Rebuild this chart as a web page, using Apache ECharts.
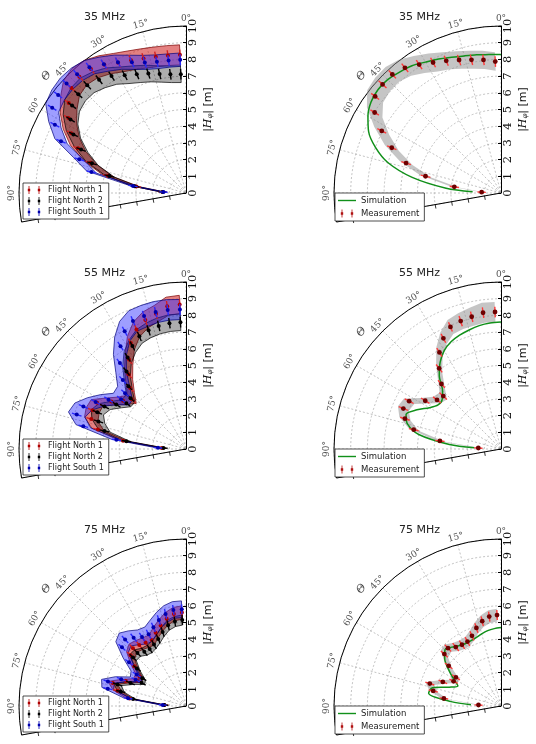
<!DOCTYPE html>
<html>
<head>
<meta charset="utf-8">
<script src="https://cdn.jsdelivr.net/npm/echarts@6/dist/echarts.min.js"></script>
<style>
  html, body { margin: 0; padding: 0; background: #fff; }
  #main { width: 536px; height: 744px; }
</style>
</head>
<body>
<div id="main"></div>
<script>
// zenith angles of the measured points (deg)
const thetas = [2.5, 7.5, 12.5, 17.5, 22.5, 27.5, 32.5, 37.5, 42.5, 47.5, 52.5, 57.5, 62.5, 67.5, 72.5, 77.5, 82.5, 87.5]
// zenith angles of the simulation curve
const simThetas = [0, 5, 10, 15, 20, 25, 30, 35, 40, 45, 50, 55, 60, 65, 70, 75, 80, 85, 87.5]
const angleTicks = [0, 15, 30, 45, 60, 75, 90]
const freqs = ['35 MHz', '55 MHz', '75 MHz']

// 35 MHz - single flights |H_phi| [m]
const north1_35 = [8.28, 8.3, 8.35, 8.45, 8.6, 8.8, 9.1, 9.35, 9.45, 9.3, 8.85, 8.35, 7.75, 7.0, 6.0, 4.8, 3.0, 1.4]
const north2_35 = [7.12, 7.17, 7.3, 7.5, 7.7, 7.95, 8.3, 8.55, 8.75, 8.75, 8.6, 8.2, 7.6, 6.8, 5.9, 4.7, 3.1, 1.4]
const south1_35 = [7.99, 8.0, 8.05, 8.2, 8.47, 8.83, 9.15, 9.5, 9.65, 9.7, 9.65, 9.5, 8.85, 8.1, 6.7, 5.8, 3.2, 1.35]
const bandN1_35 = [0.6, 0.6, 0.6, 0.6, 0.6, 0.62, 0.64, 0.66, 0.66, 0.65, 0.62, 0.58, 0.54, 0.5, 0.42, 0.35, 0.25, 0.12]
const bandN2_35 = [0.5, 0.5, 0.5, 0.52, 0.54, 0.56, 0.58, 0.6, 0.6, 0.58, 0.56, 0.52, 0.48, 0.44, 0.38, 0.3, 0.22, 0.1]
const bandS1_35 = [0.4, 0.4, 0.42, 0.44, 0.46, 0.48, 0.5, 0.5, 0.5, 0.5, 0.48, 0.46, 0.42, 0.4, 0.36, 0.3, 0.2, 0.1]

// 55 MHz
const north1_55 = [8.66, 8.62, 8.3, 8.1, 7.75, 7.15, 6.35, 5.65, 4.95, 4.4, 4.75, 5.3, 6.0, 6.05, 5.95, 5.4, 3.8, 1.45]
const north2_55 = [7.6, 7.6, 7.55, 7.45, 7.3, 6.95, 6.5, 5.85, 5.1, 4.5, 4.5, 4.95, 5.5, 5.75, 5.5, 5.0, 3.6, 1.35]
const south1_55 = [8.36, 8.4, 8.4, 8.35, 8.3, 7.95, 7.3, 6.5, 5.6, 4.95, 4.9, 5.5, 6.1, 6.65, 6.86, 6.3, 4.2, 1.68]
const bandN1_55 = [0.55, 0.55, 0.5, 0.5, 0.48, 0.45, 0.42, 0.4, 0.38, 0.36, 0.36, 0.38, 0.4, 0.42, 0.42, 0.38, 0.28, 0.12]
const bandN2_55 = [0.5, 0.5, 0.48, 0.46, 0.44, 0.42, 0.4, 0.38, 0.36, 0.34, 0.34, 0.36, 0.38, 0.4, 0.4, 0.35, 0.25, 0.1]
const bandS1_55 = [0.6, 0.62, 0.64, 0.66, 0.66, 0.66, 0.65, 0.64, 0.62, 0.6, 0.58, 0.56, 0.55, 0.55, 0.52, 0.45, 0.32, 0.14]

// 75 MHz
const north1_75 = [5.6, 5.55, 5.35, 5.05, 4.75, 4.45, 4.5, 4.6, 4.7, 4.5, 3.9, 3.3, 3.3, 3.9, 4.6, 4.2, 3.4, 1.3]
const north2_75 = [5.15, 5.1, 4.95, 4.65, 4.35, 4.15, 4.05, 4.1, 4.3, 4.3, 3.7, 3.1, 3.0, 3.6, 4.3, 4.0, 3.2, 1.3]
const south1_75 = [5.8, 5.8, 5.65, 5.4, 5.1, 4.85, 4.9, 5.15, 5.4, 5.2, 4.3, 3.5, 3.4, 4.2, 4.9, 4.8, 3.5, 1.4]
const bandN1_75 = [0.4, 0.4, 0.38, 0.36, 0.35, 0.34, 0.34, 0.34, 0.34, 0.33, 0.3, 0.27, 0.25, 0.27, 0.3, 0.28, 0.22, 0.1]
const bandN2_75 = [0.3, 0.3, 0.3, 0.28, 0.27, 0.26, 0.26, 0.26, 0.26, 0.26, 0.24, 0.22, 0.2, 0.22, 0.24, 0.22, 0.18, 0.08]
const bandS1_75 = [0.5, 0.5, 0.5, 0.48, 0.48, 0.48, 0.5, 0.52, 0.52, 0.5, 0.45, 0.4, 0.36, 0.38, 0.4, 0.36, 0.28, 0.12]

// combined measurement, its band and the simulation
const meas35 = [7.88, 8.04, 8.17, 8.35, 8.57, 8.81, 9.12, 9.45, 9.63, 9.62, 9.5, 8.97, 8.05, 7.08, 5.96, 4.63, 2.82, 1.16]
const meas55 = [8.21, 8.23, 8.11, 8.03, 7.91, 7.47, 6.86, 6.08, 5.28, 4.69, 4.83, 5.38, 6.2, 6.33, 6.03, 5.35, 3.69, 1.36]
const meas75 = [5.45, 5.4, 5.2, 4.9, 4.55, 4.35, 4.35, 4.45, 4.7, 4.6, 3.95, 3.2, 3.2, 3.77, 4.47, 4.16, 3.45, 1.35]
const bandM_35 = [0.55, 0.55, 0.55, 0.55, 0.55, 0.6, 0.6, 0.6, 0.6, 0.6, 0.6, 0.55, 0.5, 0.45, 0.4, 0.35, 0.25, 0.12]
const bandM_55 = [0.6, 0.6, 0.55, 0.5, 0.45, 0.4, 0.35, 0.3, 0.3, 0.3, 0.3, 0.3, 0.35, 0.35, 0.35, 0.3, 0.25, 0.12]
const bandM_75 = [0.38, 0.38, 0.36, 0.34, 0.32, 0.3, 0.3, 0.3, 0.3, 0.3, 0.28, 0.25, 0.22, 0.25, 0.28, 0.25, 0.2, 0.1]
const sim35 = [8.3, 8.32, 8.4, 8.5, 8.65, 8.85, 9.05, 9.3, 9.45, 9.6, 9.62, 9.5, 9.2, 8.75, 8.0, 7.0, 5.4, 3.3, 1.7]
const sim55 = [7.6, 7.57, 7.5, 7.38, 7.25, 7.08, 6.8, 6.35, 5.75, 4.95, 4.6, 4.6, 4.95, 5.55, 6.05, 5.8, 5.0, 3.1, 1.6]
const sim75 = [4.7, 4.65, 4.58, 4.47, 4.35, 4.3, 4.3, 4.4, 4.6, 4.75, 4.4, 3.85, 3.3, 2.85, 3.3, 4.25, 4.4, 3.0, 1.8]

// statistical errors (error bars)
const err35 = [0.32, 0.32, 0.32, 0.32, 0.32, 0.32, 0.32, 0.32, 0.32, 0.32, 0.3, 0.3, 0.3, 0.3, 0.3, 0.3, 0.28, 0.25]
const err55 = [0.32, 0.32, 0.32, 0.32, 0.3, 0.3, 0.3, 0.3, 0.3, 0.3, 0.3, 0.3, 0.3, 0.3, 0.3, 0.3, 0.28, 0.25]
const err75 = [0.3, 0.3, 0.3, 0.3, 0.3, 0.3, 0.3, 0.3, 0.28, 0.28, 0.28, 0.28, 0.28, 0.28, 0.28, 0.28, 0.26, 0.24]

const flights = [
  [north1_35, north2_35, south1_35],
  [north1_55, north2_55, south1_55],
  [north1_75, north2_75, south1_75]
]
const flightBands = [
  [bandN1_35, bandN2_35, bandS1_35],
  [bandN1_55, bandN2_55, bandS1_55],
  [bandN1_75, bandN2_75, bandS1_75]
]
const measurements = [meas35, meas55, meas75]
const measBands = [bandM_35, bandM_55, bandM_75]
const simulations = [sim35, sim55, sim75]
const errors = [err35, err55, err75]
const flightNames = ['Flight North 1', 'Flight North 2', 'Flight South 1']

// 样式
const flightStyle = [
  { fill: 'rgba(205,25,25,0.55)', edge: '#7a0000', bar: '#d42020', dot: '#b00000' },
  { fill: 'rgba(0,0,0,0.32)', edge: '#000', bar: '#000', dot: '#000' },
  { fill: 'rgba(40,40,255,0.45)', edge: '#00007a', bar: '#2a2aff', dot: '#0000b0' }
]
const EB_ICON = 'path://M0,0L0,0M16,8L16,8M2.6,0h0.8v8h-0.8zM1.8,2.8h2.4v2.4h-2.4zM12.6,0h0.8v8h-0.8zM11.8,2.8h2.4v2.4h-2.4z'
const LINE_ICON = 'path://M0,0L0,0M18,8L18,8M0,3.3h18v1.4h-18z'

const centersX = [186, 501]
const centersY = [193, 449, 706]
const R = 167

const dom = document.querySelector('#main')
const myChart = echarts.init(dom, null, { renderer: 'canvas' })

// 误差带
function bandSeries(pi, vals, half, fill, stroke, z) {
  return {
    type: 'custom', coordinateSystem: 'polar', polarIndex: pi, silent: true, z: z,
    data: thetas.map((t, k) => [vals[k], t]),
    encode: { radius: 0, angle: 1 },
    renderItem(params, api) {
      if (params.dataIndex !== 0) return
      const upper = thetas.map((t, k) => api.coord([vals[k] + half[k], t]))
      const lower = thetas.map((t, k) => api.coord([Math.max(vals[k] - half[k], 0), t])).reverse()
      return {
        type: 'polygon',
        shape: { points: upper.concat(lower) },
        style: { fill: fill, stroke: stroke, lineWidth: stroke ? 0.7 : 0 }
      }
    }
  }
}

// 误差棒
function errSeries(name, pi, vals, err, bar, dot, dotR, z) {
  return {
    type: 'custom', name: name, coordinateSystem: 'polar', polarIndex: pi, silent: true, z: z,
    data: thetas.map((t, k) => [vals[k], t, err[k]]),
    encode: { radius: 0, angle: 1 },
    itemStyle: { color: dot },
    renderItem(params, api) {
      const r = api.value(0), t = api.value(1), e = api.value(2)
      const a = api.coord([r - e, t]), b = api.coord([r + e, t]), c = api.coord([r, t])
      return {
        type: 'group',
        children: [
          { type: 'line', shape: { x1: a[0], y1: a[1], x2: b[0], y2: b[1] }, style: { stroke: bar, lineWidth: 1.4 } },
          { type: 'circle', shape: { cx: c[0], cy: c[1], r: dotR }, style: { fill: dot } }
        ]
      }
    }
  }
}

// 扇形下边缘 (100°) 和刻度
function edgeSeries(pi) {
  return {
    type: 'custom', coordinateSystem: 'polar', polarIndex: pi, silent: true, z: 6,
    data: [[10, 100]],
    encode: { radius: 0, angle: 1 },
    renderItem(params, api) {
      const o = api.coord([0, 100]), e = api.coord([10, 100])
      const dx = e[0] - o[0], dy = e[1] - o[1], len = Math.hypot(dx, dy)
      const nx = -dy / len, ny = dx / len
      const children = [{ type: 'line', shape: { x1: o[0], y1: o[1], x2: e[0], y2: e[1] }, style: { stroke: '#000', lineWidth: 1 } }]
      for (let r = 1; r < 10; r++) {
        const p = api.coord([r, 100])
        children.push({ type: 'line', shape: { x1: p[0], y1: p[1], x2: p[0] - nx * 4, y2: p[1] - ny * 4 }, style: { stroke: '#000', lineWidth: 0.8 } })
      }
      return { type: 'group', children: children }
    }
  }
}

// 角度标签
function angleLabelSeries(pi) {
  return {
    type: 'scatter', coordinateSystem: 'polar', polarIndex: pi, silent: true, clip: false, symbolSize: 0, z: 7,
    data: angleTicks.map(t => ({ value: [10.45, t], label: { rotate: t } })),
    label: {
      show: true, position: 'inside',
      formatter: p => p.value[1] + '°',
      fontFamily: 'DejaVu Serif', fontSize: 9, color: '#222'
    }
  }
}

function thetaLabelSeries(pi) {
  return {
    type: 'scatter', coordinateSystem: 'polar', polarIndex: pi, silent: true, clip: false, symbolSize: 0, z: 7,
    data: [{ value: [10.9, 50], label: { rotate: 50 } }],
    label: {
      show: true, position: 'inside', formatter: 'Θ',
      fontFamily: 'DejaVu Serif', fontStyle: 'italic', fontSize: 11, color: '#111'
    }
  }
}

const polar = [], angleAxis = [], radiusAxis = [], series = [], title = [], legend = []
const gridLine = { show: true, lineStyle: { color: '#9a9a9a', type: [2, 2], width: 0.6 } }

freqs.forEach((freq, row) => {
  [0, 1].forEach(col => {
    const pi = row * 2 + col
    const cx = centersX[col], cy = centersY[row]
    polar.push({ center: [cx, cy], radius: R })
    angleAxis.push({
      polarIndex: pi, type: 'value', min: 0, max: 100, interval: 15,
      startAngle: 90, endAngle: 190, clockwise: false,
      axisLine: { show: true, lineStyle: { color: '#000', width: 1 } },
      axisTick: { show: false },
      axisLabel: { show: false },
      splitLine: gridLine
    })
    radiusAxis.push({
      polarIndex: pi, type: 'value', min: 0, max: 10, interval: 1,
      axisLine: { show: true, lineStyle: { color: '#000', width: 1 } },
      axisTick: { show: true, length: 3, lineStyle: { color: '#000' } },
      axisLabel: { show: true, rotate: 90, margin: -13, fontFamily: 'DejaVu Serif', fontSize: 11.5, color: '#111' },
      splitLine: gridLine,
      name: '|{i|H}{s|φ}| [m]',
      nameLocation: 'middle', nameGap: 16, nameRotate: 90,
      nameTextStyle: {
        fontFamily: 'DejaVu Sans', fontSize: 11, color: '#111',
        rich: {
          i: { fontFamily: 'DejaVu Serif', fontStyle: 'italic', fontSize: 11, color: '#111' },
          s: { fontFamily: 'DejaVu Serif', fontStyle: 'italic', fontSize: 7, color: '#111', padding: [5, 0, 0, 0] }
        }
      }
    })
    title.push({
      text: freq, left: cx - 102, top: cy - 181, padding: 0,
      textStyle: { fontFamily: 'DejaVu Sans', fontSize: 11, fontWeight: 'normal', color: '#222' }
    })
    series.push(edgeSeries(pi), angleLabelSeries(pi), thetaLabelSeries(pi))

    if (col === 0) {
      flights[row].forEach((vals, s) => {
        const st = flightStyle[s]
        series.push(bandSeries(pi, vals, flightBands[row][s], st.fill, st.edge, 2))
      })
      flights[row].forEach((vals, s) => {
        const st = flightStyle[s]
        series.push(errSeries(flightNames[s], pi, vals, errors[row], st.bar, st.dot, 2, 5))
      })
      legend.push({
        orient: 'vertical', left: cx - 163, top: cy - 10, selectedMode: false, z: 10,
        itemWidth: 18, itemHeight: 8, itemGap: 3, padding: [3, 5, 3, 3],
        borderColor: '#222', borderWidth: 0.8, borderRadius: 0, backgroundColor: '#fff',
        textStyle: { fontFamily: 'DejaVu Sans', fontSize: 8, color: '#222' },
        data: flightNames.map((n, s) => ({ name: n, icon: EB_ICON, itemStyle: { color: flightStyle[s].dot } }))
      })
    } else {
      series.push(bandSeries(pi, measurements[row], measBands[row], 'rgba(140,140,140,0.5)', null, 2))
      series.push({
        type: 'line', name: 'Simulation', coordinateSystem: 'polar', polarIndex: pi, z: 4,
        data: simThetas.map((t, k) => [simulations[row][k], t]),
        smooth: 0.3, symbol: 'none', showSymbol: false,
        lineStyle: { color: '#11901a', width: 1.5 }, itemStyle: { color: '#11901a' }
      })
      series.push(errSeries('Measurement', pi, measurements[row], errors[row], '#ff3a3a', '#6e0000', 2.4, 5))
      legend.push({
        orient: 'vertical', left: cx - 166, top: cy, selectedMode: false, z: 10,
        itemWidth: 18, itemHeight: 8, itemGap: 4, padding: [3, 5, 3, 3],
        borderColor: '#222', borderWidth: 0.8, borderRadius: 0, backgroundColor: '#fff',
        textStyle: { fontFamily: 'DejaVu Sans', fontSize: 8.5, color: '#222' },
        data: [
          { name: 'Simulation', icon: LINE_ICON, itemStyle: { color: '#11901a' } },
          { name: 'Measurement', icon: EB_ICON, itemStyle: { color: '#b01010' } }
        ]
      })
    }
  })
})

const option = {
  backgroundColor: '#fff',
  animation: false,
  title: title,
  legend: legend,
  polar: polar,
  angleAxis: angleAxis,
  radiusAxis: radiusAxis,
  series: series
}

//   基于选项和数据绘制图表
myChart.setOption(option)
</script>
</body>
</html>
